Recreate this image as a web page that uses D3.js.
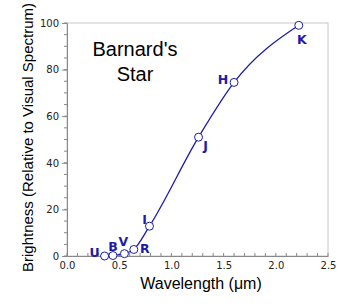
<!DOCTYPE html>
<html>
<head>
<meta charset="utf-8">
<script src="https://cdn.jsdelivr.net/npm/d3@7"></script>
<style>
  body { margin: 0; background: #fff; }
</style>
</head>
<body>
<script>
// band data
const bands = ["U", "B", "V", "R", "I", "J", "H", "K"];
const wavelength = [0.36, 0.44, 0.55, 0.64, 0.79, 1.26, 1.60, 2.22];
const brightness = [0, 0.2, 1, 2.8, 12.8, 51, 74.5, 99];
const xTicks = [0, 0.5, 1.0, 1.5, 2.0, 2.5];
const yTicks = [0, 20, 40, 60, 80, 100];
// label offsets from each marker (dx, dy)
const labelOff = [[-10, -4], [0, -9], [-1, -12], [11, -1], [-5, -7], [7, 8], [-11, -3], [3, 14]];

const W = 350, H = 306;
const m = { left: 67, right: 22, top: 23, bottom: 50 };
const blue = "#1c1ca8";

const svg = d3.select("body").append("svg")
    .attr("width", W)
    .attr("height", H);

const x = d3.scaleLinear().domain([0, 2.5]).range([m.left, W - m.right]);
const y = d3.scaleLinear().domain([0, 100]).range([H - m.bottom, m.top]);

// frame
svg.append("rect")
    .attr("x", x(0)).attr("y", y(100))
    .attr("width", x(2.5) - x(0)).attr("height", y(0) - y(100))
    .attr("fill", "none").attr("stroke", "#c8c8c8");

// minor ticks
const xMinor = d3.range(0, 26).map(i => i / 10);
const yMinor = d3.range(0, 21).map(i => i * 5);
svg.append("g").selectAll("line").data(xMinor).enter().append("line")
    .attr("x1", d => x(d)).attr("x2", d => x(d))
    .attr("y1", y(0)).attr("y2", y(0) - 3)
    .attr("stroke", "#888");
svg.append("g").selectAll("line").data(yMinor).enter().append("line")
    .attr("x1", x(0)).attr("x2", x(0) - 3)
    .attr("y1", d => y(d)).attr("y2", d => y(d))
    .attr("stroke", "#888");

const xAxis = svg.append("g")
    .attr("transform", `translate(0,${y(0)})`)
    .call(d3.axisBottom(x).tickValues(xTicks).tickFormat(d3.format(".1f")).tickSize(0).tickPadding(6));
const yAxis = svg.append("g")
    .attr("transform", `translate(${x(0)},0)`)
    .call(d3.axisLeft(y).tickValues(yTicks).tickSize(5).tickPadding(3));

[xAxis, yAxis].forEach(g => {
    g.select(".domain").attr("stroke", "#888");
    g.selectAll(".tick line").attr("stroke", "#888");
    g.selectAll("text")
        .attr("fill", "#222")
        .style("font-family", "DejaVu Sans")
        .style("font-size", "10px");
});

// axis titles
svg.append("text")
    .attr("x", 201).attr("y", 289)
    .attr("text-anchor", "middle")
    .style("font-family", "Liberation Sans")
    .style("font-size", "16px")
    .text("Wavelength (μm)");
svg.append("text")
    .attr("transform", `translate(33,${(y(0) + y(100)) / 2 - 2}) rotate(-90)`)
    .attr("text-anchor", "middle")
    .style("font-family", "Liberation Sans")
    .style("font-size", "15px")
    .text("Brightness (Relative to Visual Spectrum)");

// title
svg.append("text")
    .attr("x", 135).attr("y", 56)
    .attr("text-anchor", "middle")
    .style("font-family", "Liberation Sans")
    .style("font-size", "20px")
    .text("Barnard's");
svg.append("text")
    .attr("x", 135).attr("y", 81)
    .attr("text-anchor", "middle")
    .style("font-family", "Liberation Sans")
    .style("font-size", "20px")
    .text("Star");

const pts = bands.map((b, i) => ({ b: b, x: wavelength[i], y: brightness[i], o: labelOff[i] }));

const line = d3.line()
    .x(d => x(d.x)).y(d => y(d.y))
    .curve(d3.curveMonotoneX);

svg.append("path")
    .datum(pts)
    .attr("d", line)
    .attr("fill", "none")
    .attr("stroke", blue)
    .attr("stroke-width", 1.3);

svg.selectAll("circle").data(pts).enter().append("circle")
    .attr("cx", d => x(d.x)).attr("cy", d => y(d.y))
    .attr("r", 4)
    .attr("fill", "#fff")
    .attr("stroke", blue)
    .attr("stroke-width", 1);

svg.selectAll(".lbl").data(pts).enter().append("text")
    .attr("class", "lbl")
    .attr("x", d => x(d.x) + d.o[0]).attr("y", d => y(d.y) + d.o[1] + 4.5)
    .attr("text-anchor", "middle")
    .attr("fill", blue)
    .style("font-family", "DejaVu Sans")
    .style("font-weight", "bold")
    .style("font-size", "12.5px")
    .text(d => d.b);
</script>
</body>
</html>
